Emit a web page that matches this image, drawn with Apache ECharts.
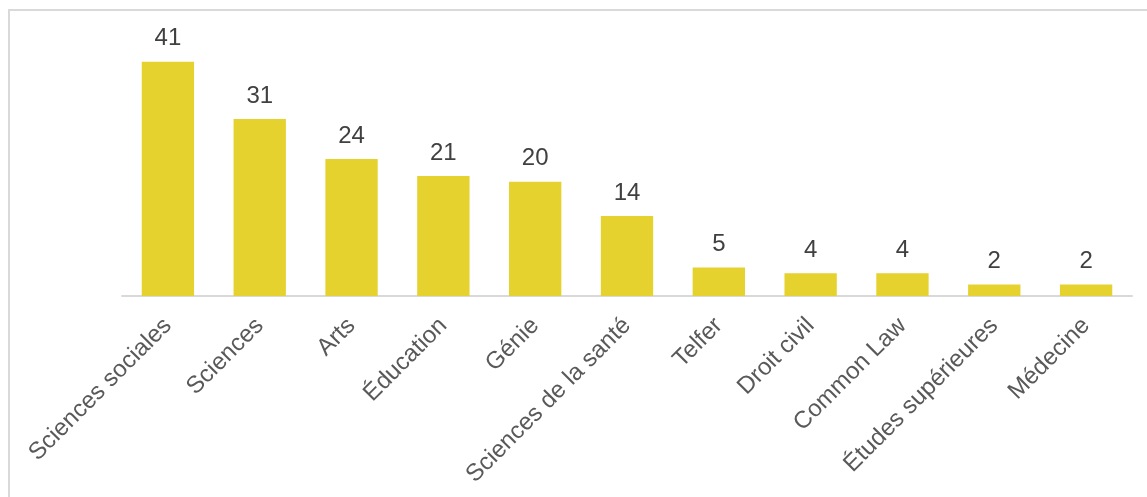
<!DOCTYPE html>
<html>
<head>
<meta charset="utf-8">
<script src="https://cdn.jsdelivr.net/npm/echarts@6/dist/echarts.min.js"></script>
<style>
  html, body { margin: 0; padding: 0; background: #fff; }
  #frame { position: absolute; left: 8px; top: 9px; right: 0; bottom: 0;
           border-top: 2px solid #d9d9d9; border-left: 2px solid #d9d9d9; }
  #chart { position: absolute; left: 0; top: 0; width: 1147px; height: 497px; }
</style>
</head>
<body>
<div id="frame"></div>
<div id="chart"></div>
<script>
// Faculties and their counts
const faculties = ['Sciences sociales', 'Sciences', 'Arts', 'Éducation', 'Génie',
  'Sciences de la santé', 'Telfer', 'Droit civil', 'Common Law',
  'Études supérieures', 'Médecine'];
const counts = [41, 31, 24, 21, 20, 14, 5, 4, 4, 2, 2];

const chart = echarts.init(document.getElementById('chart'), null, { renderer: 'canvas' });
chart.setOption({
  animation: false,
  grid: { left: 122, right: 15, top: 39, bottom: 201 },
  xAxis: {
    type: 'category',
    data: faculties,
    axisLine: { lineStyle: { color: '#d9d9d9', width: 2 } },
    axisTick: { show: false },
    axisLabel: {
      rotate: 45, interval: 0, margin: 26,
      color: '#595959', fontFamily: 'Liberation Sans, Arial, sans-serif', fontSize: 24
    }
  },
  yAxis: { type: 'value', min: 0, max: 45, show: false, splitLine: { show: false } },
  series: [{
    type: 'bar',
    data: counts,
    barWidth: '57%',
    itemStyle: { color: '#E5D22F' },
    label: {
      show: true, position: 'top', distance: 11,
      color: '#404040', fontFamily: 'Liberation Sans, Arial, sans-serif', fontSize: 24
    }
  }]
});
</script>
</body>
</html>
